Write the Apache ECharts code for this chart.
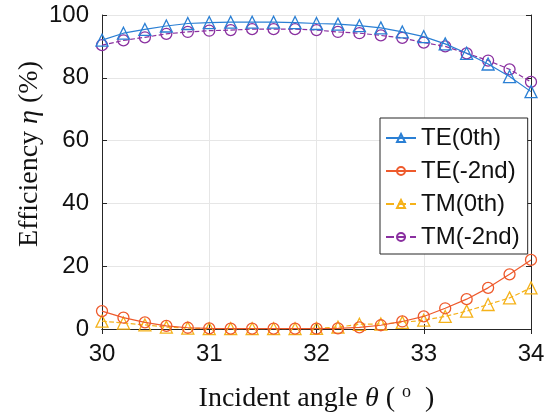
<!DOCTYPE html>
<html><head><meta charset="utf-8">
<script src="https://cdn.jsdelivr.net/npm/echarts@6/dist/echarts.min.js"></script>
<style>html,body{margin:0;padding:0;background:#fff}#c{width:556px;height:418px}</style>
</head><body><div id="c"></div>
<script>
var angles = [30,30.2,30.4,30.6,30.8,31,31.2,31.4,31.6,31.8,32,32.2,32.4,32.6,32.8,33,33.2,33.4,33.6,33.8,34];
var teZero = [92,94.2,95.4,96.5,97.3,97.6,97.7,97.7,97.7,97.6,97.3,97.1,96.6,95.9,94.6,93.1,90.8,87.8,84.4,80.4,75.6];
var teMinus2 = [5.7,3.6,2.1,1.0,0.4,0.2,0.1,0.1,0.1,0.1,0.1,0.2,0.5,1.2,2.4,4.0,6.6,9.5,13.1,17.4,22.0];
var tmZero = [2.5,1.9,1.3,0.6,0.3,0.1,0.1,0.1,0.1,0.1,0.2,0.6,1.5,1.6,2.1,2.8,4.0,5.7,7.8,9.9,13.1];
var tmMinus2 = [90.4,91.9,92.9,94.0,94.6,95.0,95.2,95.5,95.5,95.5,95.2,94.6,94.2,93.5,92.7,91.2,90.0,87.8,85.5,82.7,78.7];
var seriesNames = ['TE(0th)','TE(-2nd)','TM(0th)','TM(-2nd)'];
var xTicks = [30,31,32,33,34];

function pairs(v){ return angles.map(function(a,i){return [a,v[i]];}); }
var colors = ['#2a7fd4','#ee5a2c','#f5b21a','#8a30a0'];
var symbols = ['triangle','circle','triangle','circle'];
var dashes = ['solid','solid','dashed','dashed'];
var vals = [teZero,teMinus2,tmZero,tmMinus2];

var chart = echarts.init(document.getElementById('c'), null, {renderer:'canvas'});
var axisLine = {show:true, lineStyle:{color:'#262626', width:1}};
var series = seriesNames.map(function(n,i){
  return {
    name:n, type:'line', data:pairs(vals[i]),
    symbol:symbols[i], symbolSize: symbols[i]==='triangle'?12:11,
    showAllSymbol:true,
    lineStyle:{color:colors[i], width:1.2, type:dashes[i]},
    itemStyle:{color:'rgba(255,255,255,0)', borderColor:colors[i], borderWidth:1.3},
    z: 4-i
  };
});
chart.setOption({
  animation:false,
  grid:{left:102, right:25, top:15, bottom:88},
  legend:{
    orient:'vertical', left:380, top:118,
    padding:[8,8,5,5], itemGap:9, itemWidth:30, itemHeight:10,
    borderColor:'#262626', borderWidth:1, backgroundColor:'#fff',
    textStyle:{fontFamily:'Liberation Sans', fontSize:24, color:'#111'},
    data:seriesNames
  },
  xAxis:[{
    type:'value', min:30, max:34, interval:1,
    axisLine:axisLine, axisTick:{show:true, inside:true, length:5, lineStyle:{color:'#262626'}},
    axisLabel:{fontFamily:'Liberation Sans', fontSize:24, color:'#111', margin:13},
    splitLine:{show:true, lineStyle:{color:'#e6e6e6', width:1}},
    name:'{a|Incident angle }{b|θ}{a| ( }{s|o}{a|  )}',
    nameLocation:'middle', nameGap:54, nameMoveOverlap:false,
    nameTextStyle:{rich:{
      a:{fontFamily:'Liberation Serif', fontSize:28, color:'#111'},
      b:{fontFamily:'Liberation Serif', fontSize:28, fontStyle:'italic', color:'#111'},
      s:{fontFamily:'Liberation Serif', fontSize:18, color:'#111', verticalAlign:'top', padding:[0,0,14,0]}
    }}
  },{
    type:'value', position:'top', min:30, max:34, interval:1,
    axisLine:axisLine, axisTick:{show:true, inside:true, length:5, lineStyle:{color:'#262626'}},
    axisLabel:{show:false}, splitLine:{show:false}
  }],
  yAxis:[{
    type:'value', min:0, max:100, interval:20,
    axisLine:axisLine, axisTick:{show:true, inside:true, length:5, lineStyle:{color:'#262626'}},
    axisLabel:{fontFamily:'Liberation Sans', fontSize:24, color:'#111', margin:13},
    splitLine:{show:true, lineStyle:{color:'#e6e6e6', width:1}},
    name:'{a|Efficiency }{b|η}{a| (%)}',
    nameLocation:'middle', nameGap:58, nameMoveOverlap:false,
    nameTextStyle:{padding:[0,0,0,36], rich:{
      a:{fontFamily:'Liberation Serif', fontSize:28, color:'#111'},
      b:{fontFamily:'Liberation Serif', fontSize:28, fontStyle:'italic', color:'#111'}
    }}
  },{
    type:'value', position:'right', min:0, max:100, interval:20,
    axisLine:axisLine, axisTick:{show:true, inside:true, length:5, lineStyle:{color:'#262626'}},
    axisLabel:{show:false}, splitLine:{show:false}
  }],
  series:series
});
</script></body></html>
